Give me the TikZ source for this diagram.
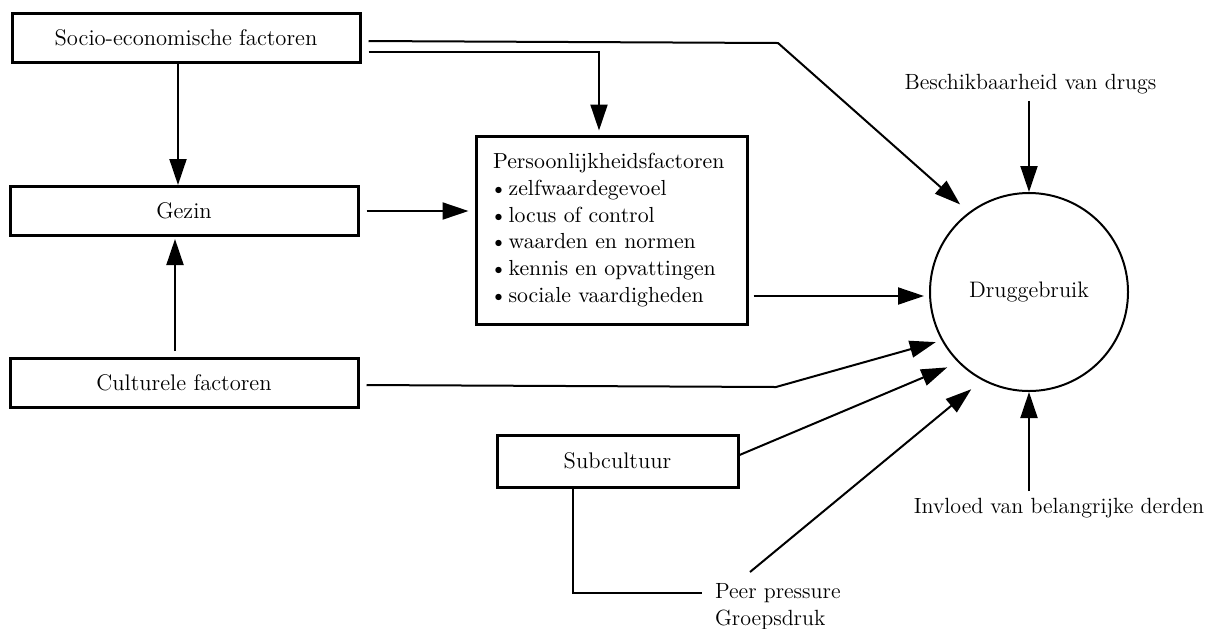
\documentclass[tikz,border=0pt]{standalone}
\usetikzlibrary{arrows.meta}
\newcommand{\itemdot}{\makebox[7.8pt][l]{\hspace{-1.5pt}\textbullet}}
\begin{document}
\begin{tikzpicture}[x=0.5pt,y=-0.5pt,
  font=\fontsize{11}{13}\selectfont,
  box/.style={draw, line width=1.5pt, minimum width=174pt, minimum height=24.5pt, inner sep=0pt},
  conn/.style={line width=1pt},
  arr/.style={conn, -{Triangle[length=13pt,width=8.5pt]}},
  hub/.style={draw, circle, line width=1pt, minimum size=99pt, inner sep=0pt}
]
\useasboundingbox (0,0) rectangle (1210,628);

% factor boxes
\node[box, font=\fontsize{11.3}{13}\selectfont] (socio) at (186,37.5) {Socio-economische factoren};
\node[box, font=\fontsize{11.3}{13}\selectfont] (gezin) at (184,211) {Gezin};
\node[box, font=\fontsize{11.3}{13}\selectfont] (cult) at (184,383) {Culturele factoren};
\node[box, minimum width=135.5pt, minimum height=94pt, text width=118.5pt,
      inner xsep=8.5pt, align=left, font=\fontsize{10.9}{13.4}\selectfont] (pers) at (611.5,230)
  {Persoonlijkheidsfactoren\\
   \itemdot zelfwaardegevoel\\
   \itemdot locus of control\\
   \itemdot waarden en normen\\
   \itemdot kennis en opvattingen\\
   \itemdot sociale vaardigheden};
\node[box, minimum width=120.5pt, minimum height=26pt, font=\fontsize{11.3}{13}\selectfont] (sub) at (617.5,461) {Subcultuur};

% central outcome
\node[hub, font=\fontsize{11.2}{13}\selectfont] (drug) at (1029,292) {Druggebruik};

% free labels
\node (besch) at (1030.5,84) {Beschikbaarheid van drugs};
\node (inv) at (1059,508) {Invloed van belangrijke derden};
\node[anchor=west] (peer1) at (708,593) {Peer pressure};
\node[anchor=west] (peer2) at (708,620) {Groepsdruk};

% helper points
\coordinate (bendA) at (778,43);
\coordinate (bendB) at (776,387);
\coordinate (peerfoot) at (750,572);
\coordinate (sg) at ([xshift=-4pt]socio.south);
\coordinate (cg) at ([xshift=-4.5pt]cult.north);
\coordinate (s1) at ([yshift=-1.75pt]socio.east);
\coordinate (s2) at ([yshift=-7.25pt]socio.east);
\coordinate (pn) at ([xshift=-6.25pt]pers.north);
\coordinate (p1) at ([yshift=-33pt]pers.east);
\coordinate (c1) at ([yshift=-1pt]cult.east);
\coordinate (sb) at ([yshift=3pt]sub.east);
\coordinate (st) at ([xshift=-22.25pt]sub.south);

% connectors
\draw[arr] (sg) -- (sg |- gezin.north);
\draw[arr, shorten <=3pt, shorten >=1pt] (cg) -- (cg |- gezin.south);
\draw[arr, shorten <=3.5pt, shorten >=3pt] (gezin.east) -- (gezin.east -| pers.west);
\draw[arr, shorten <=3.5pt, shorten >=5.8pt] (s1) -- (bendA) -- (drug.127);
\draw[arr, shorten <=3.5pt, shorten >=2pt] (s2) -| (pn);
\draw[arr, shorten <=2.5pt, shorten >=2.5pt] (p1) -- (p1 -| drug.west);
\draw[arr, shorten <=3.5pt, shorten >=3pt] (c1) -- (bendB) -- (drug.209);
\draw[arr, shorten >=6pt] (sb) -- (drug.225);
\draw[arr, shorten >=7pt] (peerfoot) -- (drug.242);
\draw[conn, shorten >=3pt] (st) |- (peer1.west);
\draw[arr] (besch.south -| drug.north) -- (drug.north);
\draw[arr] (inv.north -| drug.south) -- (drug.south);
\end{tikzpicture}
\end{document}
